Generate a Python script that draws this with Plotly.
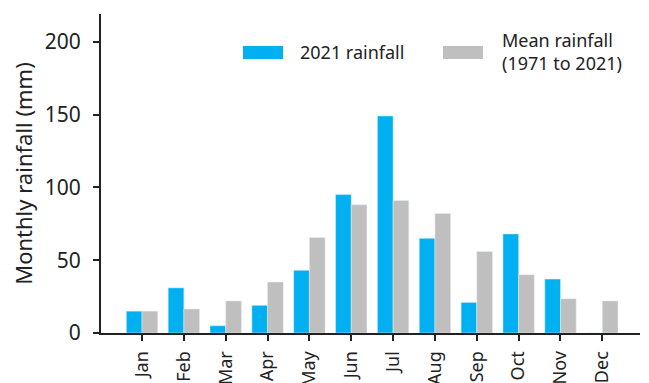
import plotly.graph_objects as go

months = ["Jan", "Feb", "Mar", "Apr", "May", "Jun", "Jul", "Aug", "Sep", "Oct", "Nov", "Dec"]
rain_2021 = [15, 31, 5, 19, 43, 95, 149, 65, 21, 68, 37, 0]
rain_mean = [15, 16.5, 22, 35, 65.5, 88, 91, 82, 56, 40, 23.5, 22]

BLUE = "#00b0f0"
GRAY = "#bfbfbf"
FONT = "Noto Sans"
TXT = "#222222"

fig = go.Figure()
fig.add_trace(go.Bar(x=months, y=rain_2021, name="2021 rainfall", marker_color=BLUE))
fig.add_trace(go.Bar(x=months, y=rain_mean, name="Mean rainfall<br>(1971 to 2021)", marker_color=GRAY))

fig.update_layout(
    width=649, height=383,
    margin=dict(l=101, r=9, t=14, b=50),
    paper_bgcolor="white", plot_bgcolor="white",
    barmode="group", bargap=0.25, bargroupgap=0,
    showlegend=False,
    font=dict(family=FONT, color=TXT),
)
fig.update_xaxes(
    range=[-0.98, 11.9], showline=True, linecolor="#222", linewidth=2,
    ticks="outside", ticklen=6, tickwidth=2, tickcolor="#222",
    tickangle=-90, tickfont=dict(size=18, family=FONT, color=TXT),
    ticklabelstandoff=3, showgrid=False, zeroline=False, automargin=False,
)
fig.update_yaxes(
    range=[0, 219], tickvals=[0, 50, 100, 150, 200], showline=True, linecolor="#222", linewidth=2,
    ticks="outside", ticklen=6, tickwidth=2, tickcolor="#222",
    tickfont=dict(size=21, family=FONT, color=TXT), ticklabelstandoff=8,
    showgrid=False, zeroline=False, automargin=False,
    title=dict(text="Monthly rainfall (mm)", font=dict(size=22, family=FONT, color=TXT), standoff=6),
)

# manual legend
legend_items = [("2021 rainfall", BLUE, 243, 298), ("Mean rainfall<br>(1971 to 2021)", GRAY, 443, 500)]
for label, col, x0, tx in legend_items:
    fig.add_shape(type="rect", xref="paper", yref="paper",
                  x0=(x0 - 101) / 539, x1=(x0 + 40 - 101) / 539,
                  y0=(333 - 59) / 319, y1=(333 - 46) / 319,
                  fillcolor=col, line_width=0)
    fig.add_annotation(xref="paper", yref="paper", x=(tx - 101) / 539, y=(333 - 52) / 319,
                       text=label, showarrow=False, xanchor="left", yanchor="middle", align="left",
                       font=dict(size=18, family=FONT, color=TXT))

fig.write_html("out.html")
